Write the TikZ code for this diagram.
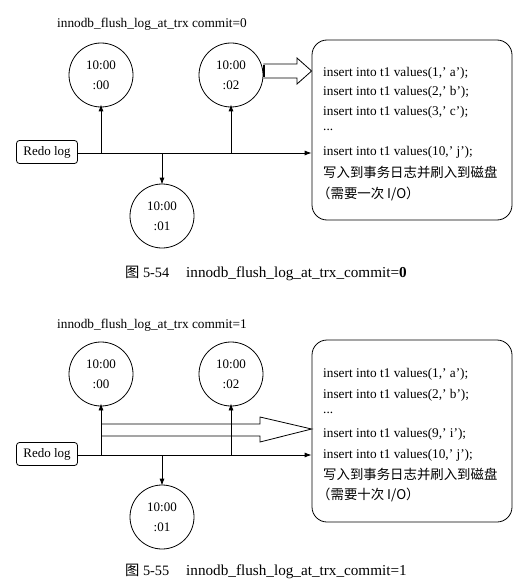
\documentclass[tikz,border=0pt]{standalone}
\usepackage{fontspec}
\setmainfont{Liberation Serif}
\newfontfamily\cjk{Noto Sans CJK SC}
\usetikzlibrary{arrows.meta,calc}
\begin{document}
\begin{tikzpicture}[x=1pt,y=-1pt,
  font=\fontsize{13.3}{15}\selectfont,
  tm/.style={circle,draw,thick,minimum size=64pt,inner sep=0pt,align=center,font=\fontsize{13}{20}\selectfont},
  redo/.style={draw,thick,rounded corners=3pt,minimum width=61pt,minimum height=23pt,inner sep=2pt,font=\fontsize{13}{14}\selectfont},
  sqlbox/.style={draw,thick,rounded corners=15pt,minimum width=200pt,inner sep=0pt},
  arr/.style={thick,-{Latex[length=7pt,width=5pt]}},
  hollow/.style={thick,fill=white},
  ln/.style={anchor=base west,inner sep=0pt},
  zh/.style={anchor=base west,inner sep=0pt,font=\cjk\fontsize{13.4}{15}\selectfont},
  ttl/.style={anchor=base west,inner sep=0pt,font=\fontsize{13.3}{15}\selectfont},
  figcap/.style={anchor=base west,inner sep=0pt,font=\fontsize{14.3}{16}\selectfont},
  figcapb/.style={anchor=base west,inner sep=0pt,font=\fontsize{15.2}{16}\selectfont}]
\useasboundingbox (0,0) rectangle (524,583);

% ===== Figure 5-54 =====
\node[ttl] (t1) at (57,28) {innodb\_flush\_log\_at\_trx commit=0};
\node[tm] (a0) at (101,75) {10:00\\:00};
\node[tm] (a2) at (231,75) {10:00\\:02};
\node[tm] (a1) at (162,216) {10:00\\:01};
\node[redo] (r1) at (47,152) {Redo log};
\node[sqlbox,minimum height=180pt] (b1) at (412,130) {};
\coordinate (j10) at (101,153);
\coordinate (j11) at (162,153);
\coordinate (j12) at (231,153);
\draw[arr] (r1.east |- j10) -- (b1.west |- j10);
\draw[arr] (j10) -- ([yshift=3pt]a0.south);
\draw[arr] (j12) -- ([yshift=3pt]a2.south);
\draw[arr] (j11) -- ([yshift=-1pt]a1.north);
\draw[hollow] (a2.east |- 0,64) -- (297,64) -- (297,58) -- (b1.west |- 0,71) -- (297,84) -- (297,78) -- (a2.east |- 0,78);
\draw[line width=2pt] ([xshift=1pt]a2.east |- 0,65) -- ([xshift=1pt]a2.east |- 0,77);
\node[ln] (l11) at (323,77) {insert into t1 values(1,' a');};
\node[ln] (l12) at (323,96) {insert into t1 values(2,' b');};
\node[ln] (l13) at (323,115) {insert into t1 values(3,' c');};
\node[ln] (l14) at (323,131) {...};
\node[ln] (l15) at (323,155) {insert into t1 values(10,' j');};
\node[zh] (l16) at (323,177) {写入到事务日志并刷入到磁盘};
\node[zh] (l17) at (317,198) {（需要一次 I/O）};
\node[figcap] (c1n) at (125,277) {{\cjk 图} 5-54};
\node[figcapb] (c1) at (186,277) {innodb\_flush\_log\_at\_trx\_commit=\textbf{0}};

% ===== Figure 5-55 =====
\node[ttl] (t2) at (57,328) {innodb\_flush\_log\_at\_trx commit=1};
\node[tm] (d0) at (101,374) {10:00\\:00};
\node[tm] (d2) at (231,374) {10:00\\:02};
\node[tm] (d1) at (162,517) {10:00\\:01};
\node[redo] (r2) at (47,454) {Redo log};
\node[sqlbox,minimum height=182pt] (b2) at (412,431) {};
\coordinate (j20) at (101,455);
\coordinate (j21) at (162,455);
\coordinate (j22) at (231,455);
\draw[hollow] (101,424) -- (260,424) -- (260,417) -- (b2.west |- 0,429) -- (260,442) -- (260,436) -- (101,436);
\draw[arr] (r2.east |- j20) -- (b2.west |- j20);
\draw[arr] (j20) -- ([yshift=3pt]d0.south);
\draw[arr] (j22) -- ([yshift=3pt]d2.south);
\draw[arr] (j21) -- ([yshift=-1pt]d1.north);
\node[ln] (l21) at (323,377) {insert into t1 values(1,' a');};
\node[ln] (l22) at (323,398) {insert into t1 values(2,' b');};
\node[ln] (l23) at (323,413) {...};
\node[ln] (l24) at (323,437) {insert into t1 values(9,' i');};
\node[ln] (l25) at (323,458) {insert into t1 values(10,' j');};
\node[zh] (l26) at (323,479) {写入到事务日志并刷入到磁盘};
\node[zh] (l27) at (317,499) {（需要十次 I/O）};
\node[figcap] (c2n) at (125,575) {{\cjk 图} 5-55};
\node[figcapb] (c2) at (186,575) {innodb\_flush\_log\_at\_trx\_commit=1};
\end{tikzpicture}
\end{document}
